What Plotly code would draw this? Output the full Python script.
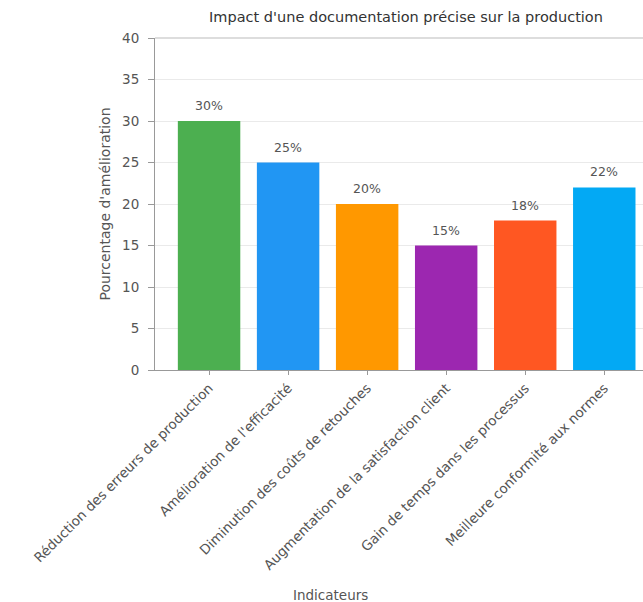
import plotly.graph_objects as go

# Indicateurs et pourcentages d'amélioration
categories = [
    "Réduction des erreurs de production",
    "Amélioration de l'efficacité",
    "Diminution des coûts de retouches",
    "Augmentation de la satisfaction client",
    "Gain de temps dans les processus",
    "Meilleure conformité aux normes",
]
values = [30, 25, 20, 15, 18, 22]
colors = ["#4CAF50", "#2196F3", "#FF9800", "#9C27B0", "#FF5722", "#03A9F4"]
y_ticks = [0, 5, 10, 15, 20, 25, 30, 35, 40]

FONT = "DejaVu Sans"
GRAY = "#555555"

fig = go.Figure(
    go.Bar(
        x=categories,
        y=values,
        marker=dict(color=colors, line=dict(width=0)),
        width=0.79,
        hovertemplate="%{x}: %{y}%<extra></extra>",
    )
)

# value labels above each bar
value_labels = [
    dict(
        x=c,
        y=v,
        text=f"{v}%",
        xref="x",
        yref="y",
        yanchor="bottom",
        yshift=6,
        showarrow=False,
        font=dict(family=FONT, size=12.5, color=GRAY),
    )
    for c, v in zip(categories, values)
]

fig.update_layout(
    width=643,
    height=602,
    margin=dict(l=155, r=0, t=38, b=232),
    paper_bgcolor="white",
    plot_bgcolor="white",
    font=dict(family=FONT, size=12, color=GRAY),
    showlegend=False,
    title=dict(
        text="Impact d'une documentation précise sur la production",
        x=406 / 643,
        xref="container",
        xanchor="center",
        y=1 - 17 / 602,
        yref="container",
        yanchor="middle",
        font=dict(family=FONT, size=14.5, color="#333333"),
    ),
    annotations=value_labels
    + [
        dict(
            text="Indicateurs",
            xref="paper",
            yref="paper",
            x=(330 - 155) / (643 - 155),
            y=-(595 - 370) / (370 - 38),
            xanchor="center",
            yanchor="middle",
            showarrow=False,
            font=dict(family=FONT, size=13.5, color=GRAY),
        )
    ],
)

fig.update_xaxes(
    range=[-0.684, 5.49],
    tickangle=-45,
    tickfont=dict(family=FONT, size=13.5, color=GRAY),
    ticks="outside",
    ticklen=4,
    tickcolor="#999999",
    showline=True,
    linecolor="#999999",
    linewidth=1,
    showgrid=False,
    zeroline=False,
)

fig.update_yaxes(
    range=[0, 40],
    tickvals=y_ticks,
    tickfont=dict(family=FONT, size=13.5, color=GRAY),
    ticks="outside",
    ticklen=6,
    ticklabelstandoff=6,
    tickcolor="#999999",
    showline=True,
    linecolor="#999999",
    linewidth=1,
    mirror=False,
    showgrid=True,
    gridcolor="#eaeaea",
    zeroline=False,
    title=dict(
        text="Pourcentage d'amélioration",
        font=dict(family=FONT, size=14, color=GRAY),
        standoff=8,
    ),
)

# top border of the plotting area
fig.add_shape(
    type="line",
    xref="paper",
    yref="paper",
    x0=0,
    x1=1,
    y0=1,
    y1=1,
    line=dict(color="#bbbbbb", width=1),
)

fig.write_html("out.html")
